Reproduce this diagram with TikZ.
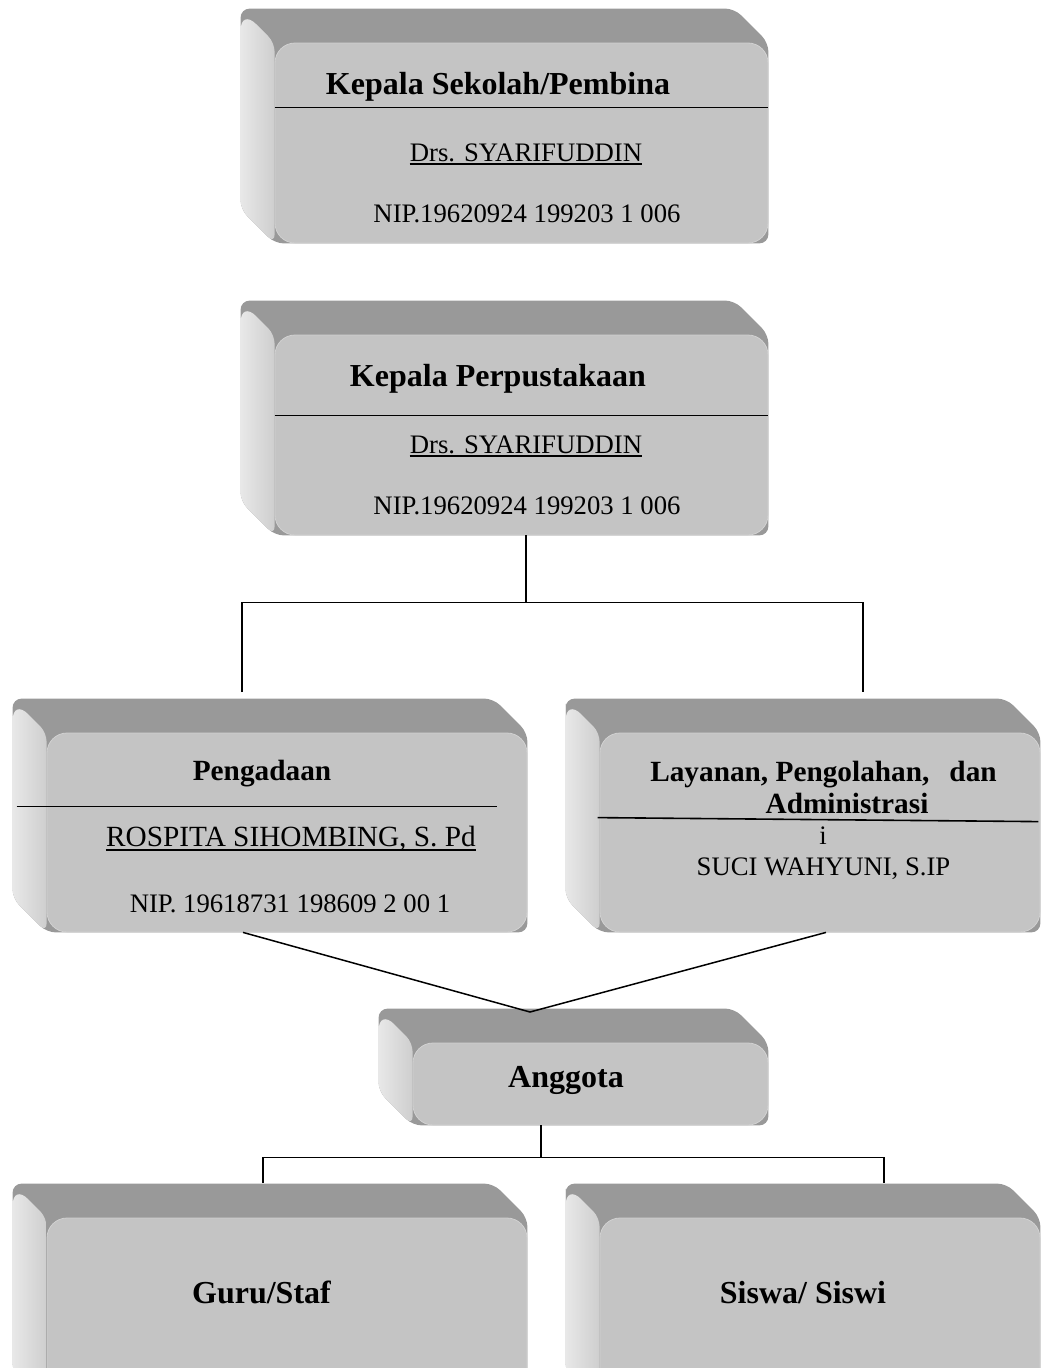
\documentclass[tikz,border=0pt]{standalone}
\usepackage{fontspec}
\setmainfont{Liberation Serif}
\usetikzlibrary{calc,backgrounds}
\definecolor{faceGray}{RGB}{196,196,196}
\definecolor{topGray}{RGB}{153,153,153}
\definecolor{sideLight}{RGB}{232,232,232}
\definecolor{sideDark}{RGB}{206,206,206}

% bevel behind a front face node
\newcommand{\extrude}[1]{%
  \begin{scope}[on background layer]
    \fill[topGray, rounded corners=9pt] ($(#1.north west)+(-34,-34)$) -- ($(#1.north east)+(-34,-34)$)
      -- (#1.north east) -- (#1.south east) -- (#1.south west) -- ($(#1.south west)+(-34,-34)$) -- cycle;
    \shade[left color=sideLight, right color=sideDark, rounded corners=9pt] ($(#1.north west)+(-34,-20)$)
      [rounded corners=22pt] -- ($(#1.north west)+(-34,-34)$) [rounded corners=9pt] -- (#1.north west)
      -- (#1.south west) -- ($(#1.south west)+(-34,-34)$) -- cycle;
  \end{scope}}

\begin{document}
\begin{tikzpicture}[x=1pt, y=-1pt,
        face/.style = {rectangle, rounded corners=20pt, fill=faceGray, draw=black!18, line width=0.8pt, inner sep=0pt},
        boxtitle/.style = {font=\fontsize{32}{34}\selectfont\bfseries, inner sep=0pt, anchor=base},
        subtitle/.style = {font=\fontsize{29.3}{32}\selectfont\bfseries, inner sep=0pt, anchor=base},
        info/.style = {font=\fontsize{26.7}{30}\selectfont, inner sep=0pt, anchor=base},
        bigname/.style = {font=\fontsize{29.3}{32}\selectfont, inner sep=0pt, anchor=base},
        sepline/.style = {line width=1.6pt},
        ul/.style = {line width=1.4pt},
        conn/.style = {line width=1.5pt}
    ]
        \useasboundingbox (0,0) rectangle (1052,1368);

        % Kepala Sekolah
        \node[face, minimum width=493pt, minimum height=200pt] (sekolah) at (521.5,143) {};
        \extrude{sekolah}
        \draw[sepline] ($(sekolah.north west)+(0,65)$) -- ($(sekolah.north east)+(0,65)$);
        \node[boxtitle] (sekolahHead) at (498,94) {Kepala Sekolah/Pembina};
        \node[info] (sekolahName) at (526,161) {Drs. SYARIFUDDIN};
        \draw[ul] ([yshift=-3pt]sekolahName.base west) -- ([yshift=-3pt]sekolahName.base east);
        \node[info] (sekolahNip) at (527,222) {NIP.19620924 199203 1 006};

        % Kepala Perpustakaan
        \node[face, minimum width=493pt, minimum height=200pt] (pustaka) at (521.5,435) {};
        \extrude{pustaka}
        \draw[sepline] ($(pustaka.north west)+(0,81)$) -- ($(pustaka.north east)+(0,81)$);
        \node[boxtitle] (pustakaHead) at (498,386) {Kepala Perpustakaan};
        \node[info] (pustakaName) at (526,453) {Drs. SYARIFUDDIN};
        \draw[ul] ([yshift=-3pt]pustakaName.base west) -- ([yshift=-3pt]pustakaName.base east);
        \node[info] (pustakaNip) at (527,514) {NIP.19620924 199203 1 006};

        % Pengadaan
        \node[face, minimum width=480pt, minimum height=199pt] (pengadaan) at (287,832.5) {};
        \extrude{pengadaan}
        \draw[sepline] ($(pengadaan.north west)+(-30,74)$) -- ($(pengadaan.north east)+(-30,74)$);
        \node[subtitle] (pengadaanHead) at (262,780) {Pengadaan};
        \node[bigname] (pengadaanName) at (291,846) {ROSPITA SIHOMBING, S. Pd};
        \draw[ul] ([yshift=-4pt]pengadaanName.base west) -- ([yshift=-4pt]pengadaanName.base east);
        \node[info] (pengadaanNip) at (290,912) {NIP. 19618731 198609 2 00 1};

        % Layanan
        \node[face, minimum width=440pt, minimum height=199pt] (layanan) at (820,832.5) {};
        \extrude{layanan}
        \draw[sepline] ($(layanan.north west)+(-2,85)$) -- ($(layanan.north east)+(-2,89)$);
        \node[subtitle] (layananHead) at (823.5,781) {Layanan, Pengolahan,\hspace{20pt}dan};
        \node[subtitle] (layananHeadB) at (847,813) {Administrasi};
        \node[info] (layananI) at (823,844) {i};
        \node[info] (layananName) at (823.5,875) {SUCI WAHYUNI, S.IP};

        % Anggota
        \node[face, minimum width=355pt, minimum height=82pt] (anggota) at (590.5,1084) {};
        \extrude{anggota}
        \node[boxtitle] (anggotaHead) at (566,1087) {Anggota};

        % Guru / Siswa
        \node[face, minimum width=480pt, minimum height=188pt] (guru) at (287,1312) {};
        \extrude{guru}
        \node[boxtitle] (guruHead) at (261.5,1303) {Guru/Staf};
        \node[face, minimum width=440pt, minimum height=188pt] (siswa) at (820,1312) {};
        \extrude{siswa}
        \node[boxtitle] (siswaHead) at (803,1303) {Siswa/ Siswi};

        % Connectors
        \draw[conn] ([xshift=4.5pt]pustaka.south) -- ++(0,67) coordinate (splitTop);
        \coordinate (pengadaanIn) at (242,692);
        \coordinate (layananIn) at (863,692);
        \draw[conn] (pengadaanIn) |- (splitTop) -| (layananIn);

        \coordinate (merge) at (530,1012);
        \draw[conn] ([xshift=-44pt]pengadaan.south) -- (merge) -- ([xshift=6pt]layanan.south);

        \draw[conn] ([xshift=-49.5pt]anggota.south) -- ++(0,32) coordinate (splitLow);
        \coordinate (guruIn) at (263,1183);
        \coordinate (siswaIn) at (884,1183);
        \draw[conn] (guruIn) |- (splitLow) -| (siswaIn);

    \end{tikzpicture}
\end{document}
